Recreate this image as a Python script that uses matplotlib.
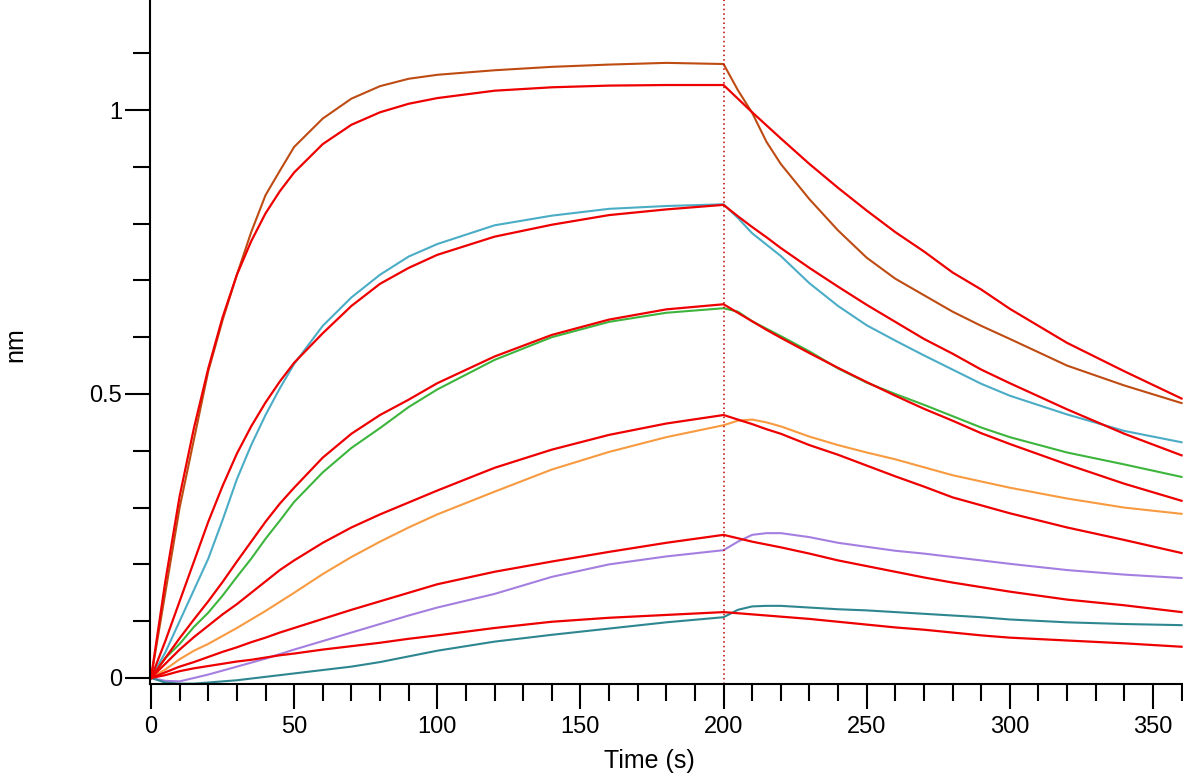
import matplotlib
matplotlib.use('Agg')
import matplotlib.pyplot as plt
from matplotlib.ticker import MultipleLocator

plt.rcParams['font.family'] = ['Liberation Sans Narrow', 'Liberation Sans', 'DejaVu Sans']

# time points (s): association 0-200, dissociation 200-360
t_assoc = [0, 5, 10, 15, 20, 25, 30, 35, 40, 45, 50, 60, 70, 80, 90, 100, 120, 140, 160, 180, 200]
t_dissoc = [205, 210, 215, 220, 230, 240, 250, 260, 270, 280, 290, 300, 320, 340, 360]
time = t_assoc + t_dissoc

# measured responses (nm)
brown = [0, 0.15, 0.30, 0.42, 0.54, 0.63, 0.71, 0.785, 0.85, 0.893, 0.935, 0.985, 1.02, 1.042, 1.055, 1.062, 1.07, 1.076, 1.08, 1.083, 1.081,
         1.035, 0.995, 0.944, 0.905, 0.843, 0.788, 0.74, 0.703, 0.674, 0.645, 0.62, 0.597, 0.55, 0.515, 0.484]
cyan = [0, 0.045, 0.10, 0.155, 0.21, 0.278, 0.35, 0.41, 0.463, 0.51, 0.553, 0.62, 0.67, 0.71, 0.742, 0.764, 0.797, 0.814, 0.826, 0.831, 0.834,
        0.81, 0.783, 0.763, 0.743, 0.695, 0.655, 0.621, 0.594, 0.568, 0.543, 0.518, 0.497, 0.464, 0.435, 0.415]
green = [0, 0.035, 0.06, 0.09, 0.115, 0.145, 0.178, 0.21, 0.245, 0.277, 0.31, 0.362, 0.405, 0.44, 0.477, 0.508, 0.56, 0.6, 0.627, 0.643, 0.651,
         0.645, 0.628, 0.615, 0.602, 0.575, 0.545, 0.52, 0.5, 0.481, 0.461, 0.441, 0.424, 0.397, 0.376, 0.354]
orange = [0, 0.015, 0.033, 0.048, 0.06, 0.074, 0.088, 0.103, 0.118, 0.134, 0.15, 0.183, 0.213, 0.24, 0.265, 0.288, 0.328, 0.367, 0.398, 0.424, 0.445,
          0.453, 0.455, 0.45, 0.443, 0.425, 0.41, 0.397, 0.385, 0.371, 0.357, 0.346, 0.335, 0.316, 0.3, 0.289]
purple = [0, -0.005, -0.006, 0.0, 0.006, 0.013, 0.02, 0.027, 0.034, 0.042, 0.05, 0.065, 0.08, 0.095, 0.11, 0.124, 0.148, 0.178, 0.2, 0.214, 0.225,
          0.24, 0.252, 0.255, 0.255, 0.248, 0.238, 0.231, 0.224, 0.219, 0.213, 0.207, 0.201, 0.19, 0.182, 0.176]
teal = [0, -0.008, -0.01, -0.01, -0.008, -0.006, -0.004, -0.001, 0.002, 0.005, 0.008, 0.014, 0.02, 0.028, 0.038, 0.048, 0.064, 0.076, 0.087, 0.098, 0.107,
        0.12, 0.126, 0.127, 0.127, 0.124, 0.121, 0.119, 0.116, 0.113, 0.11, 0.107, 0.103, 0.098, 0.095, 0.093]

# fitted curves (nm)
fit_brown = [0, 0.17, 0.32, 0.44, 0.545, 0.635, 0.71, 0.769, 0.818, 0.857, 0.89, 0.94, 0.974, 0.996, 1.011, 1.021, 1.034, 1.04, 1.043, 1.044, 1.044,
             1.02, 0.996, 0.973, 0.95, 0.905, 0.863, 0.823, 0.785, 0.751, 0.714, 0.684, 0.65, 0.59, 0.54, 0.492]
fit_cyan = [0, 0.065, 0.135, 0.205, 0.275, 0.338, 0.395, 0.443, 0.485, 0.522, 0.555, 0.607, 0.655, 0.694, 0.722, 0.745, 0.777, 0.798, 0.815, 0.825, 0.833,
            0.813, 0.794, 0.776, 0.757, 0.722, 0.689, 0.657, 0.627, 0.597, 0.571, 0.543, 0.519, 0.473, 0.43, 0.392]
fit_green = [0, 0.035, 0.07, 0.103, 0.135, 0.169, 0.205, 0.24, 0.275, 0.307, 0.335, 0.388, 0.43, 0.463, 0.49, 0.519, 0.566, 0.604, 0.631, 0.649, 0.658,
             0.643, 0.628, 0.613, 0.599, 0.572, 0.546, 0.521, 0.497, 0.474, 0.453, 0.431, 0.412, 0.376, 0.342, 0.312]
fit_orange = [0, 0.025, 0.05, 0.072, 0.092, 0.112, 0.13, 0.15, 0.17, 0.19, 0.207, 0.238, 0.265, 0.288, 0.309, 0.33, 0.37, 0.402, 0.428, 0.448, 0.463,
              0.455, 0.447, 0.438, 0.43, 0.41, 0.393, 0.374, 0.355, 0.337, 0.318, 0.304, 0.29, 0.265, 0.243, 0.22]
fit_purple = [0, 0.01, 0.02, 0.028, 0.037, 0.046, 0.054, 0.063, 0.071, 0.08, 0.088, 0.104, 0.12, 0.135, 0.15, 0.165, 0.187, 0.205, 0.222, 0.238, 0.252,
              0.246, 0.24, 0.235, 0.23, 0.219, 0.207, 0.197, 0.187, 0.177, 0.168, 0.16, 0.152, 0.138, 0.128, 0.116]
fit_teal = [0, 0.005, 0.012, 0.017, 0.021, 0.025, 0.029, 0.032, 0.036, 0.04, 0.043, 0.05, 0.056, 0.062, 0.069, 0.075, 0.088, 0.099, 0.106, 0.111, 0.116,
            0.114, 0.112, 0.11, 0.108, 0.104, 0.099, 0.094, 0.089, 0.085, 0.08, 0.075, 0.071, 0.066, 0.061, 0.055]

measured = [brown, cyan, green, orange, purple, teal]
fits = [fit_brown, fit_cyan, fit_green, fit_orange, fit_purple, fit_teal]
colors = ['#BE4B12', '#4BACC6', '#3DB53D', '#F79A40', '#A47FE0', '#2E8790']

fig = plt.figure(figsize=(11.83, 7.76), dpi=100)
ax = fig.add_axes([150 / 1183, 92 / 776, 1033 / 1183, 684 / 776])

for y, c in zip(measured, colors):
    ax.plot(time, y, color=c, lw=1.5)
for y in fits:
    ax.plot(time, y, color='#EE0000', lw=1.6)

# start of dissociation
ax.axvline(200, color='#C00000', lw=1.1, ls=(0, (1, 2)))

ax.set_xlim(-0.35, 360.5)
ax.set_ylim(-0.0106, 1.1937)

ax.spines['top'].set_visible(False)
ax.spines['right'].set_visible(False)
for s in ['left', 'bottom']:
    ax.spines[s].set_linewidth(1.5)

ax.xaxis.set_major_locator(MultipleLocator(50))
ax.xaxis.set_minor_locator(MultipleLocator(10))
ax.yaxis.set_minor_locator(MultipleLocator(0.1))
ax.set_yticks([0, 0.5, 1])
ax.set_yticklabels(['0', '0.5', '1'])
ax.tick_params(which='major', length=18, width=1.5, labelsize=17, direction='out')
ax.tick_params(which='minor', length=12, width=1.5, direction='out')
ax.tick_params(axis='y', which='major', pad=2)
ax.tick_params(axis='x', which='major', pad=5)

fig.text(649 / 1183, 1 - 761 / 776, 'Time (s)', ha='center', va='center', fontsize=18)
fig.text(15 / 1183, 1 - 345 / 776, 'nm', ha='center', va='center', rotation=90, fontsize=18)

fig.savefig('out.png', dpi=100)
